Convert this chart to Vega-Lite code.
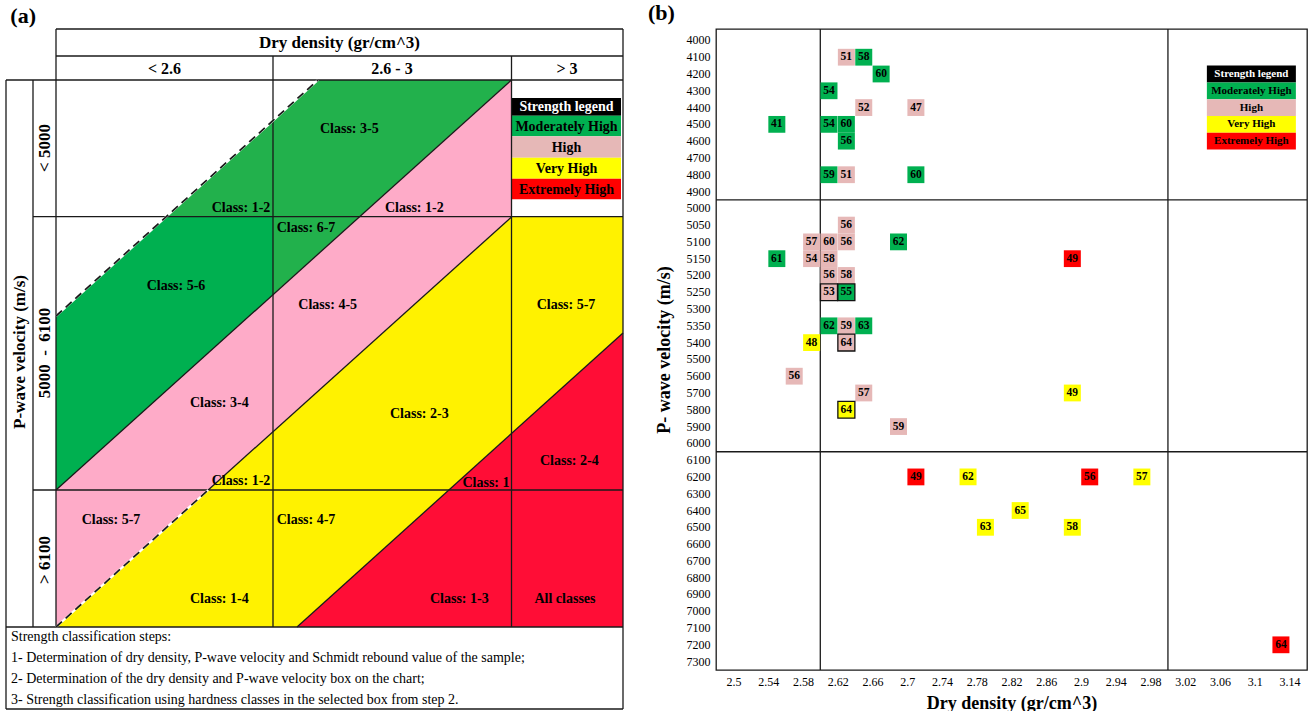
{
  "$schema": "https://vega.github.io/schema/vega-lite/v6.json",
  "background": "white",
  "padding": {"left": 5, "top": 1, "right": 0, "bottom": 0},
  "config": {"font": "Liberation Serif", "view": {"stroke": null}, "axis": {"labelOverlap": false, "labelFlush": false}},
  "spacing": 23,
  "align": "none",
  "bounds": "full",
  "resolve": {"scale": {"fill": "independent", "color": "independent"}},
  "datasets": {
    "a_areas": [
      {"r": "g1", "x": 50, "y": 287, "y2": 461},
      {"r": "g1", "x": 312, "y": 51, "y2": 225.2},
      {"r": "g1", "x": 505.5, "y": 51, "y2": 51},
      {"r": "pink", "x": 50, "y": 461, "y2": 598},
      {"r": "pink", "x": 505.5, "y": 51, "y2": 188},
      {"r": "yellow", "x": 50, "y": 598, "y2": 598},
      {"r": "yellow", "x": 291, "y": 381.1, "y2": 598},
      {"r": "yellow", "x": 505.5, "y": 188, "y2": 404.4},
      {"r": "yellow", "x": 617, "y": 188, "y2": 304},
      {"r": "red", "x": 291, "y": 598, "y2": 598},
      {"r": "red", "x": 617, "y": 304, "y2": 598},
      {"r": "g2", "x": 50, "y": 287, "y2": 461},
      {"r": "g2", "x": 160.3, "y": 187.7, "y2": 361.7},
      {"r": "g2", "x": 267, "y": 187.7, "y2": 265.7}
    ],
    "a_lines": [
      {"x": 50, "y": 0, "x2": 617, "y2": 0},
      {"x": 50, "y": 27, "x2": 617, "y2": 27},
      {"x": 0, "y": 51, "x2": 617, "y2": 51},
      {"x": 27, "y": 187.7, "x2": 617, "y2": 187.7},
      {"x": 27, "y": 461, "x2": 617, "y2": 461},
      {"x": 0, "y": 598, "x2": 617, "y2": 598},
      {"x": 0, "y": 680, "x2": 617, "y2": 680},
      {"x": 0, "y": 51, "x2": 0, "y2": 680},
      {"x": 27, "y": 51, "x2": 27, "y2": 598},
      {"x": 50, "y": 0, "x2": 50, "y2": 598},
      {"x": 267, "y": 27, "x2": 267, "y2": 598},
      {"x": 505.5, "y": 27, "x2": 505.5, "y2": 598},
      {"x": 617, "y": 0, "x2": 617, "y2": 680},
      {"x": 50, "y": 461, "x2": 505.5, "y2": 51},
      {"x": 202.2, "y": 461, "x2": 505.5, "y2": 188},
      {"x": 291, "y": 598, "x2": 617, "y2": 304}
    ],
    "a_dash": [
      {"x": 50, "y": 287, "x2": 312, "y2": 51},
      {"x": 50, "y": 598, "x2": 202.2, "y2": 461}
    ],
    "a_leg": [
      {"t": "Strength legend", "x": 506, "x2": 615, "xm": 560.5, "y": 69, "y2": 86.7, "ym": 78},
      {"t": "Moderately High", "x": 506, "x2": 615, "xm": 560.5, "y": 86.7, "y2": 107.3, "ym": 97.5},
      {"t": "High", "x": 506, "x2": 615, "xm": 560.5, "y": 107.3, "y2": 128.7, "ym": 118.5},
      {"t": "Very High", "x": 506, "x2": 615, "xm": 560.5, "y": 128.7, "y2": 149.7, "ym": 139.5},
      {"t": "Extremely High", "x": 506, "x2": 615, "xm": 560.5, "y": 149.7, "y2": 170.3, "ym": 160.5}
    ],
    "a_hdr": [{"t": "Dry density (gr/cm^3)", "x": 333.5, "y": 14}],
    "a_col": [
      {"t": "< 2.6", "x": 158.5, "y": 39.5},
      {"t": "2.6 - 3", "x": 386, "y": 39.5},
      {"t": "> 3", "x": 561, "y": 39.5}
    ],
    "a_rot": [
      {"t": "< 5000", "x": 38.5, "y": 119},
      {"t": "5000 \u00a0- \u00a06100", "x": 38.5, "y": 324},
      {"t": "> 6100", "x": 38.5, "y": 531},
      {"t": "P-wave velocity (m/s)", "x": 13.5, "y": 323}
    ],
    "a_cls": [
      {"t": "Class: 3-5", "x": 343.3, "y": 100.3},
      {"t": "Class: 1-2", "x": 408.3, "y": 178.7},
      {"t": "Class: 1-2", "x": 235, "y": 178.7},
      {"t": "Class: 6-7", "x": 300, "y": 198.7},
      {"t": "Class: 5-6", "x": 170, "y": 257},
      {"t": "Class: 4-5", "x": 321.7, "y": 276.3},
      {"t": "Class: 5-7", "x": 560, "y": 276.3},
      {"t": "Class: 3-4", "x": 213.3, "y": 373.7},
      {"t": "Class: 2-3", "x": 413.3, "y": 385.3},
      {"t": "Class: 2-4", "x": 563.3, "y": 432},
      {"t": "Class: 1-2", "x": 235, "y": 452},
      {"t": "Class: 1", "x": 480, "y": 453.7},
      {"t": "Class: 5-7", "x": 105, "y": 491.3},
      {"t": "Class: 4-7", "x": 300, "y": 491.3},
      {"t": "Class: 1-4", "x": 213.3, "y": 570.3},
      {"t": "Class: 1-3", "x": 453.3, "y": 570.3},
      {"t": "All classes", "x": 559, "y": 570.3}
    ],
    "a_note": [
      {"t": "Strength classification steps:", "x": 5, "y": 608},
      {"t": "1- Determination of dry density, P-wave velocity and Schmidt rebound value of the sample;", "x": 5, "y": 629},
      {"t": "2- Determination of the dry density and P-wave velocity box on the chart;", "x": 5, "y": 650},
      {"t": "3- Strength classification using hardness classes in the selected box from step 2.", "x": 5, "y": 671}
    ],
    "b_cells": [
      {"x": 2.63, "v": 4100, "s": 51, "c": "High"},
      {"x": 2.65, "v": 4100, "s": 58, "c": "Moderately High"},
      {"x": 2.67, "v": 4200, "s": 60, "c": "Moderately High"},
      {"x": 2.61, "v": 4300, "s": 54, "c": "Moderately High"},
      {"x": 2.65, "v": 4400, "s": 52, "c": "High"},
      {"x": 2.71, "v": 4400, "s": 47, "c": "High"},
      {"x": 2.55, "v": 4500, "s": 41, "c": "Moderately High"},
      {"x": 2.61, "v": 4500, "s": 54, "c": "Moderately High"},
      {"x": 2.63, "v": 4500, "s": 60, "c": "Moderately High"},
      {"x": 2.63, "v": 4600, "s": 56, "c": "Moderately High"},
      {"x": 2.61, "v": 4800, "s": 59, "c": "Moderately High"},
      {"x": 2.63, "v": 4800, "s": 51, "c": "High"},
      {"x": 2.71, "v": 4800, "s": 60, "c": "Moderately High"},
      {"x": 2.63, "v": 5050, "s": 56, "c": "High"},
      {"x": 2.59, "v": 5100, "s": 57, "c": "High"},
      {"x": 2.61, "v": 5100, "s": 60, "c": "High"},
      {"x": 2.63, "v": 5100, "s": 56, "c": "High"},
      {"x": 2.69, "v": 5100, "s": 62, "c": "Moderately High"},
      {"x": 2.55, "v": 5150, "s": 61, "c": "Moderately High"},
      {"x": 2.59, "v": 5150, "s": 54, "c": "High"},
      {"x": 2.61, "v": 5150, "s": 58, "c": "High"},
      {"x": 2.89, "v": 5150, "s": 49, "c": "Extremely High"},
      {"x": 2.61, "v": 5200, "s": 56, "c": "High"},
      {"x": 2.63, "v": 5200, "s": 58, "c": "High"},
      {"x": 2.61, "v": 5250, "s": 53, "c": "High", "boxed": true},
      {"x": 2.63, "v": 5250, "s": 55, "c": "Moderately High", "boxed": true},
      {"x": 2.61, "v": 5350, "s": 62, "c": "Moderately High"},
      {"x": 2.63, "v": 5350, "s": 59, "c": "High"},
      {"x": 2.65, "v": 5350, "s": 63, "c": "Moderately High"},
      {"x": 2.59, "v": 5400, "s": 48, "c": "Very High"},
      {"x": 2.63, "v": 5400, "s": 64, "c": "High", "boxed": true},
      {"x": 2.57, "v": 5600, "s": 56, "c": "High"},
      {"x": 2.65, "v": 5700, "s": 57, "c": "High"},
      {"x": 2.89, "v": 5700, "s": 49, "c": "Very High"},
      {"x": 2.63, "v": 5800, "s": 64, "c": "Very High", "boxed": true},
      {"x": 2.69, "v": 5900, "s": 59, "c": "High"},
      {"x": 2.71, "v": 6200, "s": 49, "c": "Extremely High"},
      {"x": 2.77, "v": 6200, "s": 62, "c": "Very High"},
      {"x": 2.91, "v": 6200, "s": 56, "c": "Extremely High"},
      {"x": 2.97, "v": 6200, "s": 57, "c": "Very High"},
      {"x": 2.83, "v": 6400, "s": 65, "c": "Very High"},
      {"x": 2.79, "v": 6500, "s": 63, "c": "Very High"},
      {"x": 2.89, "v": 6500, "s": 58, "c": "Very High"},
      {"x": 3.13, "v": 7200, "s": 64, "c": "Extremely High"}
    ],
    "b_leg": [
      {"t": "Strength legend", "v": 4200},
      {"t": "Moderately High", "v": 4300},
      {"t": "High", "v": 4400},
      {"t": "Very High", "v": 4500},
      {"t": "Extremely High", "v": 4600}
    ],
    "b_vr": [{"x": 2.6}, {"x": 3.0}],
    "b_hr": [{"v": 4900}, {"v": 6000}]
  },
  "hconcat": [
    {
      "width": 617,
      "height": 680,
      "title": {"text": "(a)", "anchor": "start", "frame": "bounds", "fontSize": 22, "fontWeight": "bold", "offset": 0, "dx": 5, "color": "black"},
      "layer": [
        {
          "data": {"name": "a_areas"},
          "transform": [{"filter": "datum.r != 'g2'"}],
          "mark": {"type": "area", "interpolate": "linear", "opacity": 1},
          "encoding": {
            "x": {"field": "x", "type": "quantitative", "scale": {"domain": [0, 617], "nice": false, "zero": false}, "axis": null},
            "y": {"field": "y", "type": "quantitative", "scale": {"domain": [0, 680], "reverse": true, "nice": false, "zero": false}, "axis": null},
            "y2": {"field": "y2"},
            "fill": {"field": "r", "type": "nominal", "scale": {"domain": ["g1", "g2", "pink", "yellow", "red"], "range": ["#22B14C", "#00B050", "#FEABC8", "#FFF200", "#FF0D36"]}, "legend": null}
          }
        },
        {
          "data": {"name": "a_areas"},
          "transform": [{"filter": "datum.r == 'g2'"}],
          "mark": {"type": "area", "interpolate": "linear", "opacity": 1},
          "encoding": {
            "x": {"field": "x", "type": "quantitative", "scale": {"domain": [0, 617], "nice": false, "zero": false}, "axis": null},
            "y": {"field": "y", "type": "quantitative", "scale": {"domain": [0, 680], "reverse": true, "nice": false, "zero": false}, "axis": null},
            "y2": {"field": "y2"},
            "fill": {"field": "r", "type": "nominal", "scale": {"domain": ["g1", "g2", "pink", "yellow", "red"], "range": ["#22B14C", "#00B050", "#FEABC8", "#FFF200", "#FF0D36"]}, "legend": null}
          }
        },
        {
          "data": {"name": "a_leg"},
          "mark": {"type": "rect"},
          "encoding": {
            "x": {"field": "x", "type": "quantitative", "scale": {"domain": [0, 617], "nice": false, "zero": false}, "axis": null},
            "x2": {"field": "x2"},
            "y": {"field": "y", "type": "quantitative", "scale": {"domain": [0, 680], "reverse": true, "nice": false, "zero": false}, "axis": null},
            "y2": {"field": "y2"},
            "color": {"field": "t", "type": "nominal", "scale": {"domain": ["Strength legend", "Moderately High", "High", "Very High", "Extremely High"], "range": ["#000000", "#00B050", "#E6B8B7", "#FFFF00", "#FF0000"]}, "legend": null}
          }
        },
        {
          "data": {"name": "a_lines"},
          "mark": {"type": "rule", "color": "#1a1a1a", "strokeWidth": 1.3},
          "encoding": {
            "x": {"field": "x", "type": "quantitative", "scale": {"domain": [0, 617], "nice": false, "zero": false}, "axis": null},
            "y": {"field": "y", "type": "quantitative", "scale": {"domain": [0, 680], "reverse": true, "nice": false, "zero": false}, "axis": null},
            "x2": {"field": "x2"},
            "y2": {"field": "y2"}
          }
        },
        {
          "data": {"name": "a_dash"},
          "mark": {"type": "rule", "color": "white", "strokeWidth": 2.2},
          "encoding": {
            "x": {"field": "x", "type": "quantitative", "scale": {"domain": [0, 617], "nice": false, "zero": false}, "axis": null},
            "y": {"field": "y", "type": "quantitative", "scale": {"domain": [0, 680], "reverse": true, "nice": false, "zero": false}, "axis": null},
            "x2": {"field": "x2"},
            "y2": {"field": "y2"}
          }
        },
        {
          "data": {"name": "a_dash"},
          "mark": {"type": "rule", "color": "#1a1a1a", "strokeWidth": 1.7, "strokeDash": [8, 5]},
          "encoding": {
            "x": {"field": "x", "type": "quantitative", "scale": {"domain": [0, 617], "nice": false, "zero": false}, "axis": null},
            "y": {"field": "y", "type": "quantitative", "scale": {"domain": [0, 680], "reverse": true, "nice": false, "zero": false}, "axis": null},
            "x2": {"field": "x2"},
            "y2": {"field": "y2"}
          }
        },
        {
          "data": {"name": "a_leg"},
          "mark": {"type": "text", "fontSize": 14, "fontWeight": "bold", "baseline": "middle", "align": "center"},
          "encoding": {
            "x": {"field": "xm", "type": "quantitative", "scale": {"domain": [0, 617], "nice": false, "zero": false}, "axis": null},
            "y": {"field": "ym", "type": "quantitative", "scale": {"domain": [0, 680], "reverse": true, "nice": false, "zero": false}, "axis": null},
            "text": {"field": "t"},
            "color": {"condition": {"test": "datum.t == 'Strength legend'", "value": "white"}, "value": "black"}
          }
        },
        {
          "data": {"name": "a_hdr"},
          "mark": {"type": "text", "fontSize": 17, "fontWeight": "bold", "baseline": "middle", "align": "center", "color": "black"},
          "encoding": {
            "x": {"field": "x", "type": "quantitative", "scale": {"domain": [0, 617], "nice": false, "zero": false}, "axis": null},
            "y": {"field": "y", "type": "quantitative", "scale": {"domain": [0, 680], "reverse": true, "nice": false, "zero": false}, "axis": null},
            "text": {"field": "t"}
          }
        },
        {
          "data": {"name": "a_col"},
          "mark": {"type": "text", "fontSize": 16, "fontWeight": "bold", "baseline": "middle", "align": "center", "color": "black"},
          "encoding": {
            "x": {"field": "x", "type": "quantitative", "scale": {"domain": [0, 617], "nice": false, "zero": false}, "axis": null},
            "y": {"field": "y", "type": "quantitative", "scale": {"domain": [0, 680], "reverse": true, "nice": false, "zero": false}, "axis": null},
            "text": {"field": "t"}
          }
        },
        {
          "data": {"name": "a_rot"},
          "mark": {"type": "text", "fontSize": 17, "fontWeight": "bold", "baseline": "middle", "align": "center", "angle": 270, "color": "black"},
          "encoding": {
            "x": {"field": "x", "type": "quantitative", "scale": {"domain": [0, 617], "nice": false, "zero": false}, "axis": null},
            "y": {"field": "y", "type": "quantitative", "scale": {"domain": [0, 680], "reverse": true, "nice": false, "zero": false}, "axis": null},
            "text": {"field": "t"}
          }
        },
        {
          "data": {"name": "a_cls"},
          "mark": {"type": "text", "fontSize": 14, "fontWeight": "bold", "baseline": "middle", "align": "center", "color": "black"},
          "encoding": {
            "x": {"field": "x", "type": "quantitative", "scale": {"domain": [0, 617], "nice": false, "zero": false}, "axis": null},
            "y": {"field": "y", "type": "quantitative", "scale": {"domain": [0, 680], "reverse": true, "nice": false, "zero": false}, "axis": null},
            "text": {"field": "t"}
          }
        },
        {
          "data": {"name": "a_note"},
          "mark": {"type": "text", "fontSize": 14, "baseline": "middle", "align": "left", "color": "black"},
          "encoding": {
            "x": {"field": "x", "type": "quantitative", "scale": {"domain": [0, 617], "nice": false, "zero": false}, "axis": null},
            "y": {"field": "y", "type": "quantitative", "scale": {"domain": [0, 680], "reverse": true, "nice": false, "zero": false}, "axis": null},
            "text": {"field": "t"}
          }
        }
      ]
    },
    {
      "width": 591,
      "height": 641,
      "view": {"stroke": "#1a1a1a", "strokeWidth": 1.3},
      "title": {"text": "(b)", "anchor": "start", "frame": "bounds", "fontSize": 22, "fontWeight": "bold", "offset": 3, "dx": -7, "color": "black"},
      "layer": [
        {
          "data": {"name": "b_vr"},
          "mark": {"type": "rule", "color": "#1a1a1a", "strokeWidth": 1.3},
          "encoding": {
            "x": {"field": "x", "type": "quantitative", "scale": {"domain": [2.48, 3.16], "nice": false, "zero": false}, "axis": {"values": [2.5, 2.54, 2.58, 2.62, 2.66, 2.7, 2.74, 2.78, 2.82, 2.86, 2.9, 2.94, 2.98, 3.02, 3.06, 3.1, 3.14], "format": "~g", "ticks": false, "domain": false, "grid": false, "labelFontSize": 12, "labelColor": "black", "labelPadding": 6, "labelFlush": false, "labelOverlap": false, "title": "Dry density (gr/cm^3)", "titleFontSize": 18, "titleFontWeight": "bold", "titleColor": "black", "titlePadding": 7}}
          }
        },
        {
          "data": {"name": "b_hr"},
          "mark": {"type": "rule", "color": "#1a1a1a", "strokeWidth": 1.3},
          "encoding": {
            "y": {"field": "v", "type": "ordinal", "bandPosition": 1, "scale": {"domain": [4000, 4100, 4200, 4300, 4400, 4500, 4600, 4700, 4800, 4900, 5000, 5050, 5100, 5150, 5200, 5250, 5300, 5350, 5400, 5500, 5600, 5700, 5800, 5900, 6000, 6100, 6200, 6300, 6400, 6500, 6600, 6700, 6800, 6900, 7000, 7100, 7200, 7300], "paddingInner": 0, "paddingOuter": 0.09, "align": 1}, "axis": {"ticks": false, "domain": false, "labelFontSize": 12, "labelColor": "black", "labelPadding": 6, "labelOverlap": false, "title": "P- wave velocity (m/s)", "titleFontSize": 18, "titleFontWeight": "bold", "titleColor": "black", "titlePadding": 13}}
          }
        },
        {
          "data": {"name": "b_cells"},
          "mark": {"type": "rect", "width": 17, "stroke": "#111111"},
          "encoding": {
            "x": {"field": "x", "type": "quantitative", "scale": {"domain": [2.48, 3.16], "nice": false, "zero": false}, "axis": {"values": [2.5, 2.54, 2.58, 2.62, 2.66, 2.7, 2.74, 2.78, 2.82, 2.86, 2.9, 2.94, 2.98, 3.02, 3.06, 3.1, 3.14], "format": "~g", "ticks": false, "domain": false, "grid": false, "labelFontSize": 12, "labelColor": "black", "labelPadding": 6, "labelFlush": false, "labelOverlap": false, "title": "Dry density (gr/cm^3)", "titleFontSize": 18, "titleFontWeight": "bold", "titleColor": "black", "titlePadding": 7}},
            "y": {"field": "v", "type": "ordinal", "scale": {"domain": [4000, 4100, 4200, 4300, 4400, 4500, 4600, 4700, 4800, 4900, 5000, 5050, 5100, 5150, 5200, 5250, 5300, 5350, 5400, 5500, 5600, 5700, 5800, 5900, 6000, 6100, 6200, 6300, 6400, 6500, 6600, 6700, 6800, 6900, 7000, 7100, 7200, 7300], "paddingInner": 0, "paddingOuter": 0.09, "align": 1}, "axis": {"ticks": false, "domain": false, "labelFontSize": 12, "labelColor": "black", "labelPadding": 6, "labelOverlap": false, "title": "P- wave velocity (m/s)", "titleFontSize": 18, "titleFontWeight": "bold", "titleColor": "black", "titlePadding": 13}},
            "color": {"field": "c", "type": "nominal", "scale": {"domain": ["Strength legend", "Moderately High", "High", "Very High", "Extremely High"], "range": ["#000000", "#00B050", "#E6B8B7", "#FFFF00", "#FF0000"]}, "legend": null},
            "strokeWidth": {"condition": {"test": "datum.boxed", "value": 1.3}, "value": 0}
          }
        },
        {
          "data": {"name": "b_cells"},
          "mark": {"type": "text", "fontSize": 11.5, "fontWeight": "bold", "baseline": "middle", "align": "center", "color": "black"},
          "encoding": {
            "x": {"field": "x", "type": "quantitative", "scale": {"domain": [2.48, 3.16], "nice": false, "zero": false}, "axis": {"values": [2.5, 2.54, 2.58, 2.62, 2.66, 2.7, 2.74, 2.78, 2.82, 2.86, 2.9, 2.94, 2.98, 3.02, 3.06, 3.1, 3.14], "format": "~g", "ticks": false, "domain": false, "grid": false, "labelFontSize": 12, "labelColor": "black", "labelPadding": 6, "labelFlush": false, "labelOverlap": false, "title": "Dry density (gr/cm^3)", "titleFontSize": 18, "titleFontWeight": "bold", "titleColor": "black", "titlePadding": 7}},
            "y": {"field": "v", "type": "ordinal", "scale": {"domain": [4000, 4100, 4200, 4300, 4400, 4500, 4600, 4700, 4800, 4900, 5000, 5050, 5100, 5150, 5200, 5250, 5300, 5350, 5400, 5500, 5600, 5700, 5800, 5900, 6000, 6100, 6200, 6300, 6400, 6500, 6600, 6700, 6800, 6900, 7000, 7100, 7200, 7300], "paddingInner": 0, "paddingOuter": 0.09, "align": 1}, "axis": {"ticks": false, "domain": false, "labelFontSize": 12, "labelColor": "black", "labelPadding": 6, "labelOverlap": false, "title": "P- wave velocity (m/s)", "titleFontSize": 18, "titleFontWeight": "bold", "titleColor": "black", "titlePadding": 13}},
            "text": {"field": "s"}
          }
        },
        {
          "data": {"name": "b_leg"},
          "mark": {"type": "rect", "width": 89},
          "encoding": {
            "x": {"datum": 3.096, "type": "quantitative", "scale": {"domain": [2.48, 3.16], "nice": false, "zero": false}, "axis": {"values": [2.5, 2.54, 2.58, 2.62, 2.66, 2.7, 2.74, 2.78, 2.82, 2.86, 2.9, 2.94, 2.98, 3.02, 3.06, 3.1, 3.14], "format": "~g", "ticks": false, "domain": false, "grid": false, "labelFontSize": 12, "labelColor": "black", "labelPadding": 6, "labelFlush": false, "labelOverlap": false, "title": "Dry density (gr/cm^3)", "titleFontSize": 18, "titleFontWeight": "bold", "titleColor": "black", "titlePadding": 7}},
            "y": {"field": "v", "type": "ordinal", "scale": {"domain": [4000, 4100, 4200, 4300, 4400, 4500, 4600, 4700, 4800, 4900, 5000, 5050, 5100, 5150, 5200, 5250, 5300, 5350, 5400, 5500, 5600, 5700, 5800, 5900, 6000, 6100, 6200, 6300, 6400, 6500, 6600, 6700, 6800, 6900, 7000, 7100, 7200, 7300], "paddingInner": 0, "paddingOuter": 0.09, "align": 1}, "axis": {"ticks": false, "domain": false, "labelFontSize": 12, "labelColor": "black", "labelPadding": 6, "labelOverlap": false, "title": "P- wave velocity (m/s)", "titleFontSize": 18, "titleFontWeight": "bold", "titleColor": "black", "titlePadding": 13}},
            "color": {"field": "t", "type": "nominal", "scale": {"domain": ["Strength legend", "Moderately High", "High", "Very High", "Extremely High"], "range": ["#000000", "#00B050", "#E6B8B7", "#FFFF00", "#FF0000"]}, "legend": null}
          }
        },
        {
          "data": {"name": "b_leg"},
          "mark": {"type": "text", "fontSize": 11, "fontWeight": "bold", "baseline": "middle", "align": "center"},
          "encoding": {
            "x": {"datum": 3.096, "type": "quantitative", "scale": {"domain": [2.48, 3.16], "nice": false, "zero": false}, "axis": {"values": [2.5, 2.54, 2.58, 2.62, 2.66, 2.7, 2.74, 2.78, 2.82, 2.86, 2.9, 2.94, 2.98, 3.02, 3.06, 3.1, 3.14], "format": "~g", "ticks": false, "domain": false, "grid": false, "labelFontSize": 12, "labelColor": "black", "labelPadding": 6, "labelFlush": false, "labelOverlap": false, "title": "Dry density (gr/cm^3)", "titleFontSize": 18, "titleFontWeight": "bold", "titleColor": "black", "titlePadding": 7}},
            "y": {"field": "v", "type": "ordinal", "scale": {"domain": [4000, 4100, 4200, 4300, 4400, 4500, 4600, 4700, 4800, 4900, 5000, 5050, 5100, 5150, 5200, 5250, 5300, 5350, 5400, 5500, 5600, 5700, 5800, 5900, 6000, 6100, 6200, 6300, 6400, 6500, 6600, 6700, 6800, 6900, 7000, 7100, 7200, 7300], "paddingInner": 0, "paddingOuter": 0.09, "align": 1}, "axis": {"ticks": false, "domain": false, "labelFontSize": 12, "labelColor": "black", "labelPadding": 6, "labelOverlap": false, "title": "P- wave velocity (m/s)", "titleFontSize": 18, "titleFontWeight": "bold", "titleColor": "black", "titlePadding": 13}},
            "text": {"field": "t"},
            "color": {"condition": {"test": "datum.t == 'Strength legend'", "value": "white"}, "value": "black"}
          }
        }
      ]
    }
  ]
}
